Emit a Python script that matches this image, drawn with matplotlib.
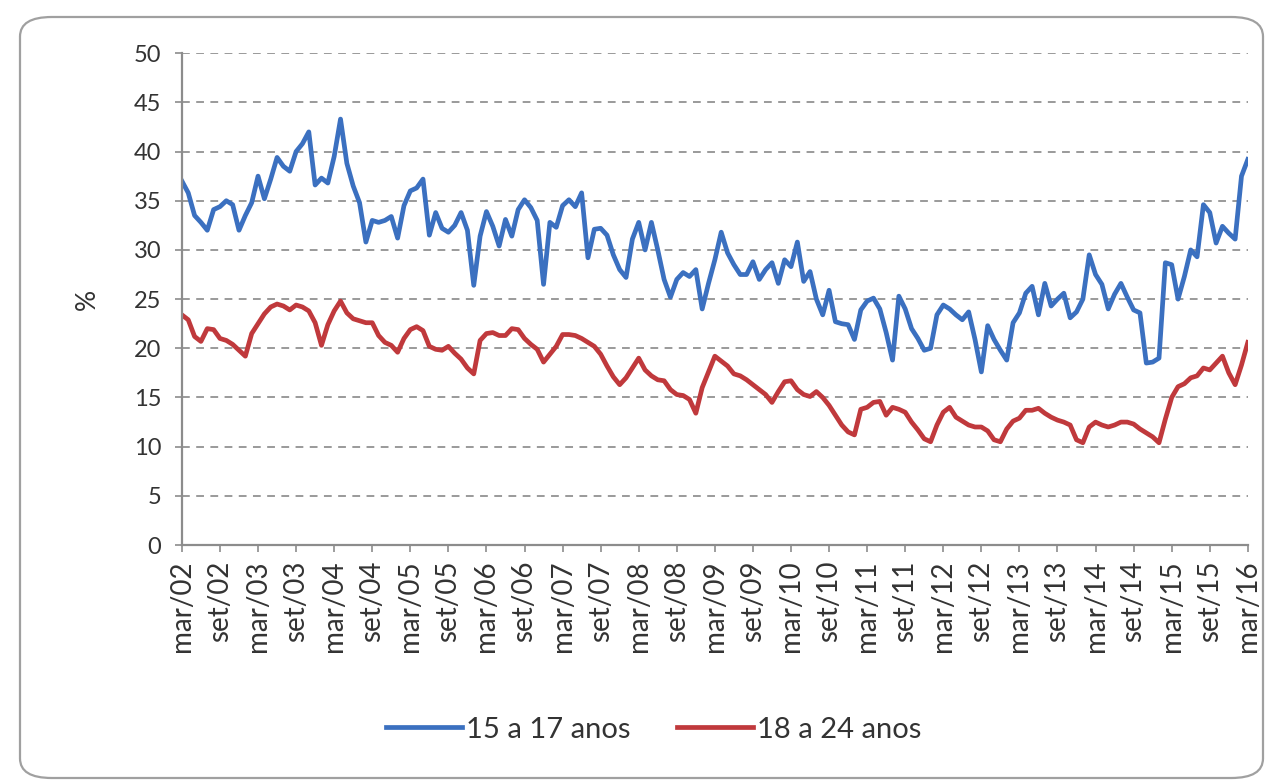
import matplotlib.pyplot as plt
from matplotlib.patches import FancyBboxPatch

# monthly series, mar/02 .. mar/16 (169 months)
jovens_15_17 = [
    37.0, 35.8, 33.5, 32.8, 32.0, 34.1, 34.4, 35.0, 34.6, 32.0,
    33.5, 34.8, 37.5, 35.2, 37.2, 39.4, 38.5, 38.0, 40.0, 40.8,
    42.0, 36.6, 37.3, 36.8, 39.5, 43.3, 38.8, 36.5, 34.8, 30.8,
    33.0, 32.8, 33.0, 33.4, 31.2, 34.5, 36.0, 36.3, 37.2, 31.5,
    33.8, 32.2, 31.8, 32.5, 33.8, 32.0, 26.4, 31.4, 33.9, 32.4,
    30.4, 33.1, 31.4, 34.1, 35.1, 34.3, 33.0, 26.5, 32.8, 32.3,
    34.5, 35.1, 34.4, 35.8, 29.2, 32.1, 32.2, 31.5, 29.5, 28.0,
    27.2, 31.1, 32.8, 30.0, 32.8, 30.0, 27.0, 25.2, 27.0, 27.7,
    27.3, 28.0, 24.0, 26.6, 29.0, 31.8, 29.7, 28.5, 27.5, 27.5,
    28.8, 27.0, 28.0, 28.7, 26.6, 29.0, 28.3, 30.8, 26.8, 27.8,
    25.0, 23.4, 25.9, 22.7, 22.5, 22.4, 20.9, 23.9, 24.8, 25.1,
    24.0, 21.6, 18.8, 25.3, 24.0, 22.0, 21.0, 19.8, 20.0, 23.4,
    24.4, 24.0, 23.4, 22.9, 23.7, 20.9, 17.6, 22.3, 20.9, 19.8,
    18.8, 22.6, 23.6, 25.6, 26.3, 23.4, 26.6, 24.3, 25.0, 25.6,
    23.1, 23.7, 25.0, 29.5, 27.5, 26.5, 24.0, 25.5, 26.6, 25.2,
    23.9, 23.6, 18.5, 18.6, 19.0, 28.7, 28.5, 25.0, 27.3, 30.0,
    29.3, 34.6, 33.8, 30.7, 32.4, 31.7, 31.1, 37.5, 39.2,
]

jovens_18_24 = [
    23.4, 22.9, 21.2, 20.7, 22.0, 21.9, 21.0, 20.8, 20.4, 19.8,
    19.2, 21.5, 22.5, 23.5, 24.2, 24.5, 24.3, 23.9, 24.4, 24.2,
    23.8, 22.6, 20.3, 22.4, 23.8, 24.8, 23.6, 23.0, 22.8, 22.6,
    22.6, 21.3, 20.6, 20.3, 19.6, 21.0, 21.9, 22.2, 21.8, 20.2,
    19.9, 19.8, 20.2, 19.5, 18.9, 18.0, 17.4, 20.8, 21.5, 21.6,
    21.3, 21.3, 22.0, 21.9, 21.0, 20.4, 19.9, 18.6, 19.4, 20.2,
    21.4, 21.4, 21.3, 21.0, 20.6, 20.2, 19.4, 18.2, 17.1, 16.3,
    17.0, 18.0, 19.0, 17.8, 17.2, 16.8, 16.7, 15.8, 15.3, 15.2,
    14.8, 13.4, 16.0, 17.6, 19.2, 18.7, 18.2, 17.4, 17.2, 16.8,
    16.3, 15.8, 15.3, 14.5, 15.6, 16.6, 16.7, 15.8, 15.3, 15.1,
    15.6, 15.0, 14.2, 13.2, 12.2, 11.5, 11.2, 13.8, 14.0, 14.5,
    14.6, 13.2, 14.0, 13.8, 13.5, 12.5, 11.7, 10.8, 10.5, 12.2,
    13.5, 14.0, 13.0, 12.6, 12.2, 12.0, 12.0, 11.6, 10.7, 10.5,
    11.8, 12.6, 12.9, 13.7, 13.7, 13.9, 13.4, 13.0, 12.7, 12.5,
    12.2, 10.7, 10.4, 12.0, 12.5, 12.2, 12.0, 12.2, 12.5, 12.5,
    12.3, 11.8, 11.4, 11.0, 10.4, 12.8, 15.0, 16.1, 16.4, 17.0,
    17.2, 18.0, 17.8, 18.5, 19.2, 17.5, 16.3, 18.3, 20.6,
]

anos = ['02', '03', '04', '05', '06', '07', '08', '09',
        '10', '11', '12', '13', '14', '15', '16']
rotulos = []
for a in anos:
    rotulos.append('mar/' + a)
    if a != '16':
        rotulos.append('set/' + a)

plt.rcParams['font.family'] = ['Lato', 'DejaVu Sans']

fig = plt.figure(figsize=(12.72, 7.82), dpi=100)

# rounded frame around the whole chart
moldura = FancyBboxPatch((20 / 1272, 4 / 782), 1243 / 1272, 761 / 782,
                         boxstyle='round,pad=0,rounding_size=0.025',
                         transform=fig.transFigure, facecolor='none',
                         edgecolor='#a0a0a0', linewidth=1.6, zorder=-5)
fig.patches.append(moldura)

ax = fig.add_axes([0.143, 0.303, 0.838, 0.629])
ax.patch.set_alpha(0)
meses = range(len(jovens_15_17))
ax.plot(meses, jovens_15_17, color='#3b70c0', lw=3.4, label='15 a 17 anos',
        solid_joinstyle='round')
ax.plot(meses, jovens_18_24, color='#c0393c', lw=3.4, label='18 a 24 anos',
        solid_joinstyle='round')

ax.set_xlim(0, 168)
ax.set_ylim(0, 50)
ax.set_yticks(range(0, 51, 5))
ax.set_xticks(range(0, 169, 6))
ax.set_xticklabels(rotulos, rotation=90)
ax.yaxis.grid(True, color='#9a9a9a', linestyle=(0, (4, 3.3)), lw=1.4)
ax.set_axisbelow(True)

for s in ['top', 'right']:
    ax.spines[s].set_visible(False)
for s in ['left', 'bottom']:
    ax.spines[s].set_color('#8c8c8c')
    ax.spines[s].set_linewidth(1.6)

ax.tick_params(axis='both', colors='#8c8c8c', labelcolor='#333333',
               labelsize=17, length=5, width=1.2)
ax.tick_params(axis='x', labelsize=20, pad=6)
ax.tick_params(axis='y', pad=10)
ax.set_ylabel('%', fontsize=19, color='#333333', labelpad=24)

fig.legend(loc='center', bbox_to_anchor=(0.514, 0.067), ncol=2, frameon=False,
           fontsize=21, handlelength=2.6, columnspacing=1.6, handletextpad=0.15,
           labelcolor='#333333')

plt.savefig('out.png')
